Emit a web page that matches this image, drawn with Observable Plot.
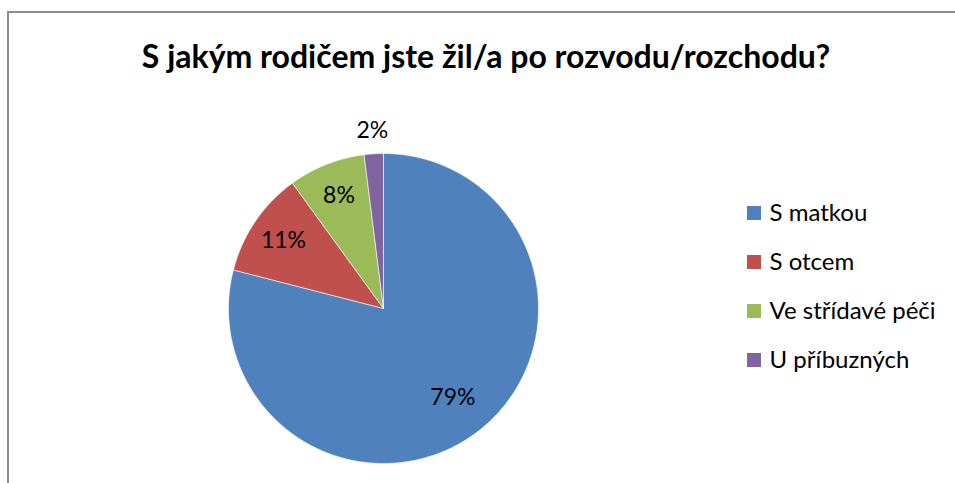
<!DOCTYPE html>
<html>
<head>
<meta charset="utf-8">
<script src="https://cdn.jsdelivr.net/npm/d3@7"></script>
<script src="https://cdn.jsdelivr.net/npm/@observablehq/plot@0.6"></script>
<style>
  html, body { margin: 0; padding: 0; background: #fff; }
  #wrap { position: relative; width: 955px; height: 483px; overflow: hidden; font-family: Lato, "Open Sans", sans-serif; }
  #frame { position: absolute; left: 7px; top: 11px; width: 1000px; height: 600px; border: 2px solid #8c8c8c; box-sizing: border-box; }
  #title { position: absolute; left: 0; top: 36px; width: 972px; text-align: center; font-weight: bold; font-size: 32px; line-height: 40px; color: #000; }
  #chart { position: absolute; left: 0; top: 0; }
</style>
</head>
<body>
<div id="wrap">
  <div id="frame"></div>
  <div id="chart"></div>
  <div id="title">S jakým rodičem jste žil/a po rozvodu/rozchodu?</div>
</div>
<script>
const categories = ["S matkou", "S otcem", "Ve střídavé péči", "U příbuzných"];
const values = [79, 11, 8, 2];
const labels = ["79%", "11%", "8%", "2%"];
const colors = ["#4F81BD", "#C0504D", "#9BBB59", "#8064A2"];

const W = 955, H = 483;
const cx = 383, cy = 308, r = 155;

const arcs = d3.pie().sort(null).startAngle(0).endAngle(2 * Math.PI)(values);

const pt = (a, rr) => ({x: cx + rr * Math.sin(a), y: cy - rr * Math.cos(a)});

const slicePts = [];
arcs.forEach((a, i) => {
  const cat = categories[i];
  slicePts.push({cat, ...pt(0, 0)});
  const n = Math.max(2, Math.ceil((a.endAngle - a.startAngle) / 0.01));
  for (let k = 0; k <= n; k++) {
    const t = a.startAngle + (a.endAngle - a.startAngle) * k / n;
    slicePts.push({cat, ...pt(t, r)});
  }
  slicePts.push({cat, ...pt(0, 0)});
});

const labelData = arcs.map((a, i) => {
  const mid = (a.startAngle + a.endAngle) / 2;
  const frac = values[i] / d3.sum(values);
  const k = frac < 0.05 ? 1.15 : (frac > 0.5 ? 0.73 : 0.78);
  return {label: labels[i], ...pt(mid, r * k)};
});

const legendX = 747, legendY0 = 213, legendStep = 49, sq = 14;
const legendData = categories.map((c, i) => ({cat: c, y: legendY0 + i * legendStep}));

const plot = Plot.plot({
  width: W, height: H,
  margin: 0,
  x: {domain: [0, W], range: [0, W], axis: null},
  y: {domain: [0, H], range: [0, H], axis: null},
  color: {domain: categories, range: colors},
  style: {fontFamily: "Lato, 'Open Sans', sans-serif", background: "transparent"},
  marks: [
    Plot.line(slicePts, {x: "x", y: "y", z: "cat", fill: "cat", stroke: "white", strokeWidth: 0.6, curve: "linear"}),
    Plot.text(labelData, {x: "x", y: "y", text: "label", fontSize: 23, fill: "#000"}),
    Plot.rect(legendData, {x1: legendX, x2: legendX + sq, y1: d => d.y - sq / 2, y2: d => d.y + sq / 2, fill: "cat"}),
    Plot.text(legendData, {x: 769, y: "y", text: "cat", textAnchor: "start", fontSize: 24, fill: "#000"})
  ]
});
document.getElementById("chart").appendChild(plot);
</script>
</body>
</html>
